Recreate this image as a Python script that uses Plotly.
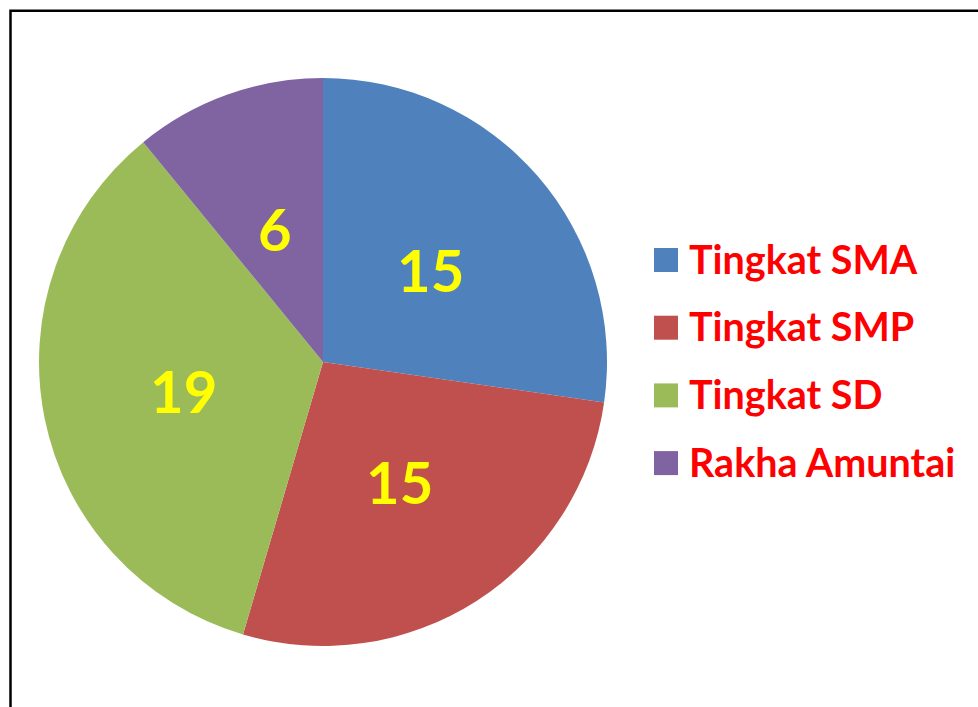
import math
import plotly.graph_objects as go

labels = ["Tingkat SMA", "Tingkat SMP", "Tingkat SD", "Rakha Amuntai"]
values = [15, 15, 19, 6]
colors = ["#4F81BD", "#C0504D", "#9BBB59", "#8064A2"]

W, H = 978, 707
cx, cy, R = 323, 362, 284  # pie centre/radius in px (from top-left)

dom_x = [(cx - R) / W, (cx + R) / W]
dom_y = [(H - cy - R) / H, (H - cy + R) / H]

fig = go.Figure()
fig.add_trace(go.Pie(
    labels=labels, values=values, sort=False, direction="clockwise", rotation=0,
    marker=dict(colors=colors, line=dict(width=0)),
    textinfo="none", hoverinfo="label+value", showlegend=False,
    domain=dict(x=dom_x, y=dom_y),
))

annotations = []
total = sum(values)
cum = 0
for v in values:
    mid = (cum + v / 2) / total * 2 * math.pi
    cum += v
    px = cx + 0.5 * R * math.sin(mid)
    py = cy - 0.5 * R * math.cos(mid)
    annotations.append(dict(
        x=px / W, y=(H - py) / H, xref="paper", yref="paper",
        text=str(v), showarrow=False, xanchor="center", yanchor="middle",
        font=dict(family="Lato", size=58, color="#FFFF00", weight="bold"),
    ))

shapes = [dict(type="rect", xref="paper", yref="paper",
               x0=10.5 / W, x1=1.2, y0=-0.2, y1=(H - 10.8) / H,
               line=dict(color="black", width=2.5), fillcolor="rgba(0,0,0,0)")]

leg_x0, leg_y0, leg_dy, sw = 654, 260, 67.7, 24
for i, (lab, col) in enumerate(zip(labels, colors)):
    yc = leg_y0 + i * leg_dy
    shapes.append(dict(type="rect", xref="paper", yref="paper",
                       x0=leg_x0 / W, x1=(leg_x0 + sw) / W,
                       y0=(H - yc - sw / 2) / H, y1=(H - yc + sw / 2) / H,
                       line=dict(width=0), fillcolor=col))
    annotations.append(dict(
        x=687 / W, y=(H - yc + 2) / H, xref="paper", yref="paper",
        text=lab, showarrow=False, xanchor="left", yanchor="middle",
        font=dict(family="Lato", size=39.5, color="#FF0000", weight="bold"),
    ))

fig.update_layout(
    width=W, height=H, margin=dict(l=0, r=0, t=0, b=0),
    paper_bgcolor="white", plot_bgcolor="white",
    annotations=annotations, shapes=shapes,
)
fig.write_html("out.html")
